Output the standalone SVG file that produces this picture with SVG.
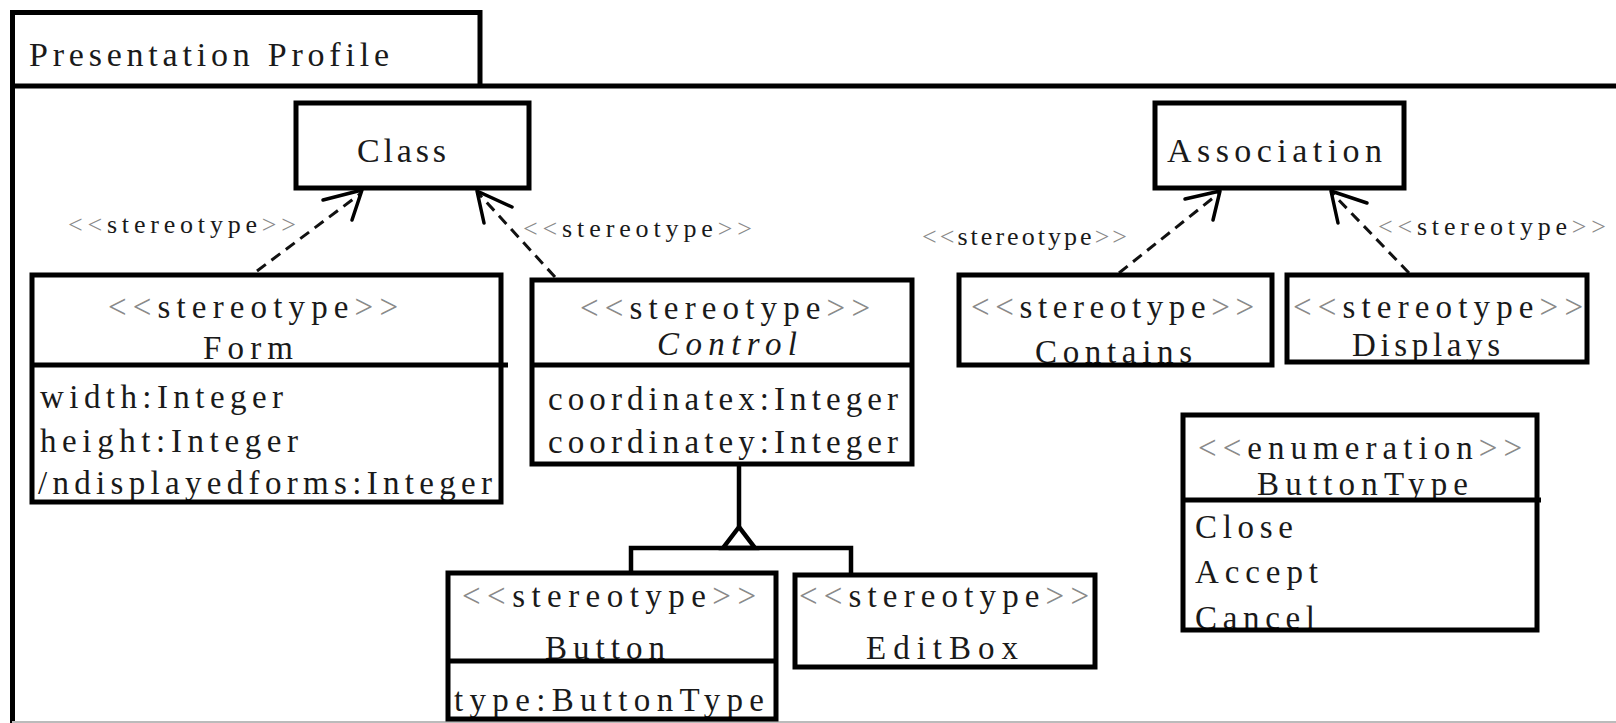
<svg xmlns="http://www.w3.org/2000/svg" width="1616" height="723" viewBox="0 0 1616 723">
<style>
text{font-family:"Liberation Serif","Times New Roman",serif;fill:#1a1a1a}
.t{font-size:33px}
.big{font-size:34px}
.lbl{font-size:26px}
.g{fill:#8a8a8a}
.box{fill:none;stroke:#000;stroke-width:5}
.bg{fill:#fff}
.div{stroke:#000;stroke-width:5}
.dash{fill:none;stroke:#111;stroke-width:3;stroke-dasharray:11 7}
.arr{fill:none;stroke:#000;stroke-width:3.5;stroke-linecap:round;stroke-linejoin:round}
.gen{fill:none;stroke:#000;stroke-width:4.5}
</style>
<rect x="0" y="0" width="1616" height="723" fill="#fff"/>
<g id="frame">
  <path d="M12.5,723 V12.5 H480 V86" class="box"/>
  <line x1="10" y1="86" x2="1616" y2="86" class="div"/>
  <line x1="12" y1="722" x2="1616" y2="722" stroke="#bbb" stroke-width="2"/>
  <text x="29" y="66" class="big" textLength="360" lengthAdjust="spacing">Presentation Profile</text>
</g>
<g id="connectors">
  <line x1="257" y1="271" x2="360" y2="194" class="dash"/>
  <polyline points="323,200 362,190 352,220" class="arr"/>
  <line x1="555" y1="277" x2="479" y2="194" class="dash"/>
  <polyline points="512,207 477,191 484,223" class="arr"/>
  <line x1="1119" y1="273" x2="1218" y2="194" class="dash"/>
  <polyline points="1185,199 1220,191 1213,220" class="arr"/>
  <line x1="1409" y1="273" x2="1333" y2="194" class="dash"/>
  <polyline points="1367,203 1331,191 1338,223" class="arr"/>
  <line x1="739" y1="465" x2="739" y2="527" class="gen"/>
  <polygon points="739,527 723,548 755,548" class="gen" fill="#fff"/>
  <polyline points="631,575 631,548 851,548 851,575" class="gen"/>
  <text x="68" y="233" class="lbl" textLength="228" lengthAdjust="spacing"><tspan class="g">&lt;&lt;</tspan>stereotype<tspan class="g">&gt;&gt;</tspan></text>
  <text x="523" y="237" class="lbl" textLength="229" lengthAdjust="spacing"><tspan class="g">&lt;&lt;</tspan>stereotype<tspan class="g">&gt;&gt;</tspan></text>
  <text x="922" y="245" class="lbl" textLength="205" lengthAdjust="spacing"><tspan class="g">&lt;&lt;</tspan>stereotype<tspan class="g">&gt;&gt;</tspan></text>
  <text x="1378" y="235" class="lbl" textLength="228" lengthAdjust="spacing"><tspan class="g">&lt;&lt;</tspan>stereotype<tspan class="g">&gt;&gt;</tspan></text>
</g>
<g id="class">
  <rect x="296" y="103" width="233" height="85" class="bg"/>
  <text x="357" y="162" class="big" textLength="89" lengthAdjust="spacing">Class</text>
  <rect x="296" y="103" width="233" height="85" class="box"/>
</g>
<g id="association">
  <rect x="1155" y="103" width="249" height="85" class="bg"/>
  <text x="1167" y="162" class="big" textLength="215" lengthAdjust="spacing">Association</text>
  <rect x="1155" y="103" width="249" height="85" class="box"/>
</g>
<g id="form">
  <rect x="32" y="275" width="469" height="227" class="bg"/>
  <text x="108" y="318" class="t" textLength="290" lengthAdjust="spacing"><tspan class="g">&lt;&lt;</tspan>stereotype<tspan class="g">&gt;&gt;</tspan></text>
  <text x="203" y="359" class="t" textLength="90" lengthAdjust="spacing">Form</text>
  <text x="40" y="408" class="t" textLength="243" lengthAdjust="spacing">width:Integer</text>
  <text x="40" y="452" class="t" textLength="258" lengthAdjust="spacing">height:Integer</text>
  <text x="38" y="494" class="t" textLength="454" lengthAdjust="spacing">/ndisplayedforms:Integer</text>
  <rect x="32" y="275" width="469" height="227" class="box"/>
  <line x1="32" y1="365" x2="508" y2="365" class="div"/>
</g>
<g id="control">
  <rect x="532" y="280" width="380" height="184" class="bg"/>
  <text x="580" y="319" class="t" textLength="290" lengthAdjust="spacing"><tspan class="g">&lt;&lt;</tspan>stereotype<tspan class="g">&gt;&gt;</tspan></text>
  <text x="657" y="355" class="t" font-style="italic" textLength="140" lengthAdjust="spacing">Control</text>
  <text x="548" y="410" class="t" textLength="350" lengthAdjust="spacing">coordinatex:Integer</text>
  <text x="548" y="453" class="t" textLength="350" lengthAdjust="spacing">coordinatey:Integer</text>
  <rect x="532" y="280" width="380" height="184" class="box"/>
  <line x1="532" y1="365" x2="912" y2="365" class="div"/>
</g>
<g id="contains">
  <rect x="959" y="275" width="313" height="90" class="bg"/>
  <text x="971" y="318" class="t" textLength="283" lengthAdjust="spacing"><tspan class="g">&lt;&lt;</tspan>stereotype<tspan class="g">&gt;&gt;</tspan></text>
  <text x="1035" y="363" class="t" textLength="157" lengthAdjust="spacing">Contains</text>
  <rect x="959" y="275" width="313" height="90" class="box"/>
</g>
<g id="displays">
  <rect x="1287" y="275" width="300" height="87" class="bg"/>
  <text x="1293" y="318" class="t" textLength="290" lengthAdjust="spacing"><tspan class="g">&lt;&lt;</tspan>stereotype<tspan class="g">&gt;&gt;</tspan></text>
  <text x="1352" y="356" class="t" textLength="148" lengthAdjust="spacing">Displays</text>
  <rect x="1287" y="275" width="300" height="87" class="box"/>
</g>
<g id="buttontype">
  <rect x="1183" y="415" width="354" height="215" class="bg"/>
  <text x="1198" y="459" class="t" textLength="324" lengthAdjust="spacing"><tspan class="g">&lt;&lt;</tspan>enumeration<tspan class="g">&gt;&gt;</tspan></text>
  <text x="1257" y="495" class="t" textLength="211" lengthAdjust="spacing">ButtonType</text>
  <text x="1195" y="538" class="t" textLength="98" lengthAdjust="spacing">Close</text>
  <text x="1195" y="583" class="t" textLength="123" lengthAdjust="spacing">Accept</text>
  <text x="1195" y="629" class="t" textLength="120" lengthAdjust="spacing">Cancel</text>
  <rect x="1183" y="415" width="354" height="215" class="box"/>
  <line x1="1183" y1="500" x2="1541" y2="500" class="div"/>
</g>
<g id="button">
  <rect x="448" y="573" width="328" height="146" class="bg"/>
  <text x="462" y="607" class="t" textLength="294" lengthAdjust="spacing"><tspan class="g">&lt;&lt;</tspan>stereotype<tspan class="g">&gt;&gt;</tspan></text>
  <text x="545" y="659" class="t" textLength="120" lengthAdjust="spacing">Button</text>
  <text x="454" y="711" class="t" textLength="310" lengthAdjust="spacing">type:ButtonType</text>
  <rect x="448" y="573" width="328" height="146" class="box"/>
  <line x1="448" y1="661" x2="776" y2="661" class="div"/>
</g>
<g id="editbox">
  <rect x="795" y="575" width="300" height="92" class="bg"/>
  <text x="799" y="607" class="t" textLength="290" lengthAdjust="spacing"><tspan class="g">&lt;&lt;</tspan>stereotype<tspan class="g">&gt;&gt;</tspan></text>
  <text x="866" y="659" class="t" textLength="152" lengthAdjust="spacing">EditBox</text>
  <rect x="795" y="575" width="300" height="92" class="box"/>
</g>
</svg>
